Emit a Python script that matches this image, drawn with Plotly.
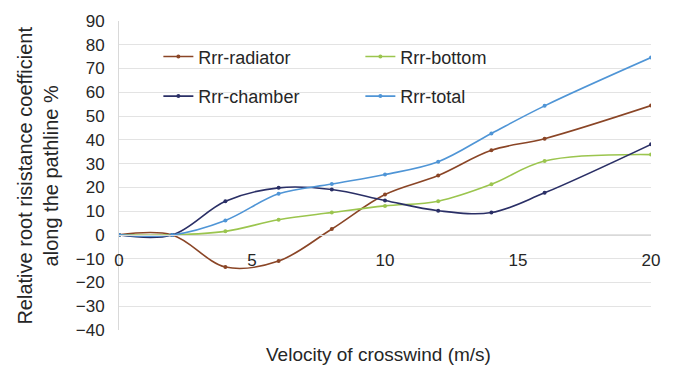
import plotly.graph_objects as go

# Crosswind velocity (m/s) at which the coefficients were evaluated
velocity = [0, 2, 4, 6, 8, 10, 12, 14, 16, 20]

# Relative root resistance coefficient along the pathline (%)
rrr_radiator = [0, 0, -13.5, -11.0, 2.5, 17.0, 25.0, 35.6, 40.5, 54.4]
rrr_bottom = [0, 0, 1.5, 6.4, 9.4, 12.2, 14.2, 21.3, 31.1, 33.8]
rrr_chamber = [0, 0, 14.2, 19.8, 19.1, 14.5, 10.2, 9.4, 17.7, 38.1]
rrr_total = [0, 0, 6.1, 17.3, 21.4, 25.4, 30.8, 42.7, 54.3, 74.6]

y_ticks = list(range(-40, 100, 10))
x_ticks = [0, 5, 10, 15, 20]
y_range = [-40, 90]
x_range = [0, 20]

series = [
    ("Rrr-radiator", rrr_radiator, "#8a4526", "legend"),
    ("Rrr-bottom", rrr_bottom, "#9bc54e", "legend"),
    ("Rrr-chamber", rrr_chamber, "#2a2f66", "legend2"),
    ("Rrr-total", rrr_total, "#4f95d6", "legend2"),
]

FONT = "Liberation Sans, Arial, sans-serif"
TEXT = "#262626"

fig = go.Figure()
for name, vals, color, lg in series:
    fig.add_trace(go.Scatter(
        x=velocity, y=vals, name=name, mode="lines+markers",
        line=dict(color=color, width=1.6, shape="spline", smoothing=1.0),
        marker=dict(color=color, size=4),
        legend=lg,
    ))

# x axis crosses the value axis at zero
zero_pos = (0 - y_range[0]) / (y_range[1] - y_range[0])

legend_common = dict(
    orientation="h", xanchor="left", yanchor="middle",
    font=dict(family=FONT, size=18, color=TEXT),
    bgcolor="rgba(0,0,0,0)", entrywidth=157, entrywidthmode="pixels",
)

fig.update_layout(
    width=676, height=369,
    margin=dict(l=119, r=25, t=16, b=39),
    paper_bgcolor="white", plot_bgcolor="white",
    font=dict(family=FONT, size=16, color=TEXT),
    legend=dict(x=0.074, y=0.884, **legend_common),
    legend2=dict(x=0.074, y=0.756, **legend_common),
    xaxis=dict(
        range=x_range, tickvals=x_ticks, showgrid=False,
        anchor="free", position=zero_pos,
        showline=True, linecolor="#d9d9d9", linewidth=1,
        ticks="", ticklabelstandoff=10,
        tickfont=dict(family=FONT, size=17, color=TEXT),
        zeroline=False,
    ),
    yaxis=dict(
        range=y_range, tickvals=y_ticks, showgrid=True,
        gridcolor="#e3e3e3", gridwidth=1,
        showline=True, linecolor="#d9d9d9", linewidth=1,
        zeroline=False, ticks="", ticklabelstandoff=10,
        tickfont=dict(family=FONT, size=17, color=TEXT),
    ),
    annotations=[
        dict(text="Velocity of crosswind (m/s)", xref="paper", yref="paper",
             x=0.487, y=-0.08, xanchor="center", yanchor="middle",
             showarrow=False, font=dict(family=FONT, size=19, color=TEXT)),
        dict(text="Relative root risistance coefficient<br>along the pathline %",
             xref="paper", yref="paper", x=-0.154, y=0.5,
             xanchor="center", yanchor="middle", textangle=-90,
             showarrow=False, font=dict(family=FONT, size=20, color=TEXT)),
    ],
)

fig.write_html("out.html")
